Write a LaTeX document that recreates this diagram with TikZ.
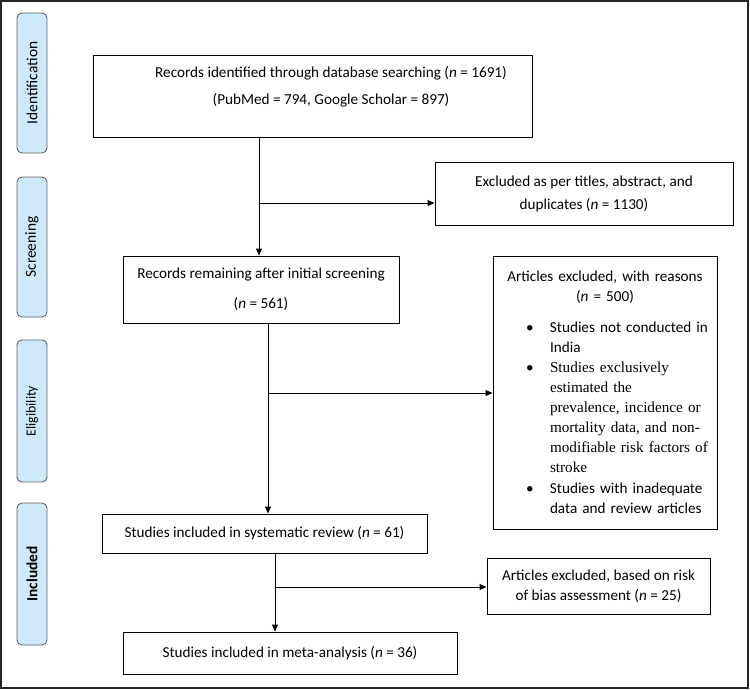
\documentclass[tikz,border=0pt]{standalone}
\usepackage{fontspec}
\setmainfont{Carlito}
\newfontfamily\timesfont{Liberation Serif}
\usepackage{tikz}
\usetikzlibrary{arrows.meta}
\usetikzlibrary{positioning}

\definecolor{phaseblue}{RGB}{205,234,252}
\definecolor{phaseline}{RGB}{95,95,95}

\tikzset{
  phase/.style={draw=phaseline, fill=phaseblue, rounded corners=5pt, line width=0.9pt,
    rotate=90, minimum height=30pt, inner sep=0pt, font=\fontsize{15.4}{17}\selectfont},
  box/.style={draw, line width=0.9pt, inner sep=0pt, align=center,
    font=\fontsize{15.2}{20}\selectfont},
  flow/.style={line width=0.9pt, -{Triangle[length=7pt,width=6pt]}},
  plain/.style={line width=0.9pt}
}

\begin{document}
\begin{tikzpicture}[x=1pt, y=-1pt]
    \useasboundingbox (0,0) rectangle (750,689);

    % frame
    \draw[line width=1.6pt, black!85] (1,1) rectangle (748,688);

    % phases
    \node[phase, minimum width=140pt] (ident) at (32,83) {Identification};
    \node[phase, minimum width=140pt] (screen) at (32,247) {Screening};
    \node[phase, minimum width=142pt, font=\fontsize{13.8}{15}\selectfont] (elig) at (32,411) {Eligibility};
    \node[phase, minimum width=142pt] (incl) at (32,574) {\bfseries Included};

    % identification
    \node[box, minimum width=439pt, minimum height=82pt] (rec) at (312.5,96) {};
    \node[align=center, inner sep=0pt, font=\fontsize{15.2}{27}\selectfont] (rectext) at (331,87)
      {Records identified through database searching (\textit{n} = 1691)\\
       (PubMed = 794, Google Scholar = 897)};

    \node[box, minimum width=298pt, minimum height=63pt, font=\fontsize{15.2}{23}\selectfont] (excl) at (584,193.5)
      {Excluded as per titles, abstract, and\\ duplicates (\textit{n} = 1130)};

    % screening
    \node[box, minimum width=276pt, minimum height=67pt, font=\fontsize{15.2}{30}\selectfont] (remain) at (261,289.5)
      {Records remaining after initial screening\\ (\textit{n} = 561)};

    % eligibility
    \node[box, text width=210pt, minimum height=273pt, inner xsep=7pt, align=left] (reasons) at (605,392.5)
      {\makebox[210pt]{Articles excluded, with reasons}\\
       \makebox[210pt]{(\textit{n} = 500)}\\[11pt]
       \hspace*{26pt}\makebox[24pt][l]{\textbullet}Studies not conducted in\\
       \hspace*{50pt}India\\
       \hspace*{26pt}\makebox[24pt][l]{\textbullet}{\timesfont Studies exclusively}\\
       \hspace*{50pt}{\timesfont estimated the}\\
       \hspace*{50pt}{\timesfont prevalence, incidence or}\\
       \hspace*{50pt}{\timesfont mortality data, and non-}\\
       \hspace*{50pt}{\timesfont modifiable risk factors of}\\
       \hspace*{50pt}{\timesfont stroke}\\[1pt]
       \hspace*{26pt}\makebox[24pt][l]{\textbullet}Studies with inadequate\\
       \hspace*{50pt}data and review articles};

    % included
    \node[box, minimum width=325pt, minimum height=39pt] (review) at (264.5,533.5)
      {Studies included in systematic review (\textit{n} = 61)};
    \node[box, minimum width=223pt, minimum height=56pt] (bias) at (598.5,586)
      {Articles excluded, based on risk\\ of bias assessment (\textit{n} = 25)};
    \node[box, minimum width=334pt, minimum height=42pt] (meta) at (290,653)
      {Studies included in meta-analysis (\textit{n} = 36)};

    % connectors
    \coordinate (split1) at (259,203);
    \coordinate (split2) at (268,393);
    \coordinate (split3) at (275,587);

    \draw[plain] (rec.south -| split1) -- (split1);
    \draw[flow] (split1) -- (split1 -| excl.west);
    \draw[flow] (split1) -- (split1 |- remain.north);

    \draw[plain] (remain.south -| split2) -- (split2);
    \draw[flow] (split2) -- (split2 -| reasons.west);
    \draw[flow] (split2) -- (split2 |- review.north);

    \draw[plain] (review.south -| split3) -- (split3);
    \draw[flow] (split3) -- (split3 -| bias.west);
    \draw[flow] (split3) -- (split3 |- meta.north);
\end{tikzpicture}
\end{document}
